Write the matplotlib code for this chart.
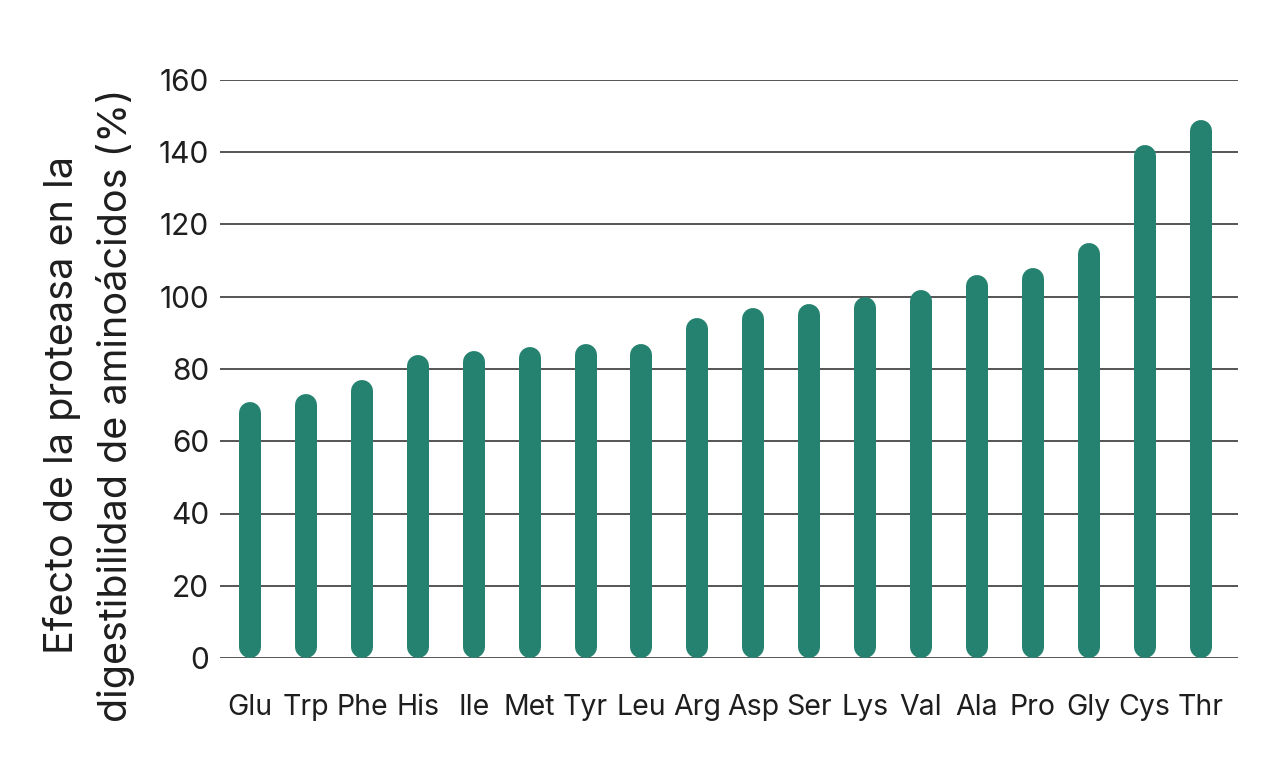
import matplotlib
matplotlib.use("Agg")
import matplotlib.pyplot as plt
import numpy as np

plt.rcParams["font.family"] = ["Inter", "DejaVu Sans"]

aminoacids = ["Glu", "Trp", "Phe", "His", "Ile", "Met", "Tyr", "Leu", "Arg",
              "Asp", "Ser", "Lys", "Val", "Ala", "Pro", "Gly", "Cys", "Thr"]
effect_pct = [71, 73, 77, 84, 85, 86, 87, 87, 94,
              97, 98, 100, 102, 106, 108, 115, 142, 149]
yticks = [0, 20, 40, 60, 80, 100, 120, 140, 160]

BAR_COLOR = "#268270"
GRID_COLOR = "#555555"
TEXT_COLOR = "#1e1e1e"
DPI = 100

fig = plt.figure(figsize=(12.8, 7.62), dpi=DPI)
ax = fig.add_axes([220 / 1280, 1 - 658 / 762, (1238 - 220) / 1280, (658 - 80) / 762])

ax.set_xlim(-0.537, 17.67)
ax.set_ylim(0, 160)

# bars are thick lines with round caps; shorten by the cap radius so ends land on 0 / value
bar_px = 22
lw_pt = bar_px * 72 / DPI
ax_h_px = (658 - 80)
r = (bar_px / 2) / (ax_h_px / 160)

x = np.arange(len(aminoacids))
for xi, v in zip(x, effect_pct):
    ax.plot([xi, xi], [r, v - r], color=BAR_COLOR, linewidth=lw_pt,
            solid_capstyle="round", zorder=3)

ax.set_yticks(yticks)
ax.set_yticklabels([str(t) for t in yticks], fontsize=21.5, color=TEXT_COLOR)
ax.set_xticks(x)
ax.set_xticklabels(aminoacids, fontsize=20.5, color=TEXT_COLOR)
ax.tick_params(axis="y", length=0, pad=8)
ax.tick_params(axis="x", length=0, pad=26)

for t in yticks:
    ax.axhline(t, color=GRID_COLOR, linewidth=1.4, zorder=1)

for s in ax.spines.values():
    s.set_visible(False)

fig.text(89 / 1280, 1 - 405 / 762,
         "Efecto de la proteasa en la\ndigestibilidad de aminoácidos (%)",
         rotation=90, ha="center", va="center", fontsize=28.5,
         color=TEXT_COLOR, linespacing=1.5)

fig.savefig("out.png", dpi=DPI)
plt.close(fig)
